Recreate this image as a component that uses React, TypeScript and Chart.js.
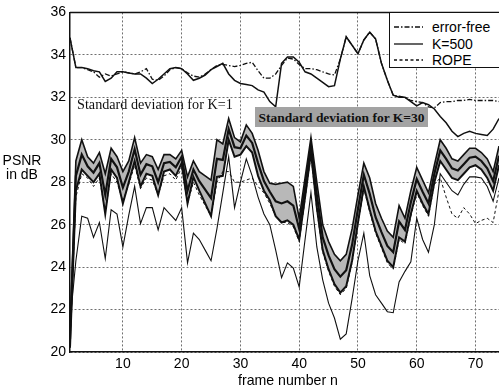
import React, { useEffect, useLayoutEffect, useRef, useState } from "react";
import { Chart, registerables } from "chart.js";

Chart.register(...registerables);

const frames = [
  1, 2, 3, 4, 5, 6, 7, 8, 9, 10, 11, 12, 13, 14, 15, 16, 17, 18, 19, 20,
  21, 22, 23, 24, 25, 26, 27, 28, 29, 30, 31, 32, 33, 34, 35, 36, 37, 38, 39, 40,
  41, 42, 43, 44, 45, 46, 47, 48, 49, 50, 51, 52, 53, 54, 55, 56, 57, 58, 59, 60,
  61, 62, 63, 64, 65, 66, 67, 68, 69, 70, 71, 72, 73, 74,
];
const xTicks = [10, 20, 30, 40, 50, 60, 70];
const yTicks = [20, 22, 24, 26, 28, 30, 32, 34, 36];

const errorFree = [
  34.8, 33.4, 33.4, 33.3, 33.2, 32.95, 33.1, 33.0, 33.1, 33.2, 33.15, 33.1, 33.2, 33.35, 32.85, 32.8, 33.0, 33.3, 33.4, 33.35,
  33.15, 33.0, 32.95, 33.1, 33.3, 33.5, 33.55, 33.5, 33.45, 33.5, 33.6, 33.65, 33.25, 32.9, 32.9, 33.1, 33.5, 33.85, 33.8, 33.55,
  33.35, 33.35, 33.3, 33.2, 33.1, 33.05, 33.8, 34.85, 34.45, 34.05, 34.7, 35.07, 34.75, 33.6, 32.8, 32.1, 32.05, 32.0, 31.85, 31.8,
  31.75, 31.55, 31.5, 31.75, 31.8, 31.8, 31.85, 31.85, 31.9, 31.85, 31.85, 31.85, 31.85, 31.8,
];
const k500 = [
  34.8, 33.4, 33.4, 33.35, 33.25, 33.2, 32.75, 32.9, 33.2, 33.2, 33.15, 33.1, 33.1, 32.9, 32.65, 32.85, 33.1, 33.35, 33.4, 33.35,
  33.1, 32.8, 32.9, 33.05, 33.3, 33.45, 33.6, 33.1, 32.8, 32.65, 32.6, 32.55, 32.35, 32.25, 31.8, 31.55, 33.6, 33.9, 33.9, 33.65,
  33.2, 33.1, 32.9, 32.7, 32.5, 32.55, 33.8, 34.85, 34.45, 34.05, 34.7, 35.07, 34.75, 33.6, 32.8, 32.1, 32.0, 32.0, 31.8, 31.6,
  31.75, 31.65, 31.45, 31.1, 30.8, 30.4, 30.15, 30.3, 30.4, 30.3, 30.25, 30.2, 30.5, 31.0,
];
const rope = [
  20.4, 27.3, 28.4, 28.2, 27.8, 28.2, 26.6, 28.4, 28.0, 27.1, 27.9, 28.8, 27.7, 28.2, 28.1, 27.4, 28.3, 28.4, 28.1, 28.7,
  27.0, 28.0, 27.4, 26.9, 26.4, 28.0, 28.5, 28.5, 28.0, 28.0, 28.1, 28.2, 27.8, 27.5, 27.0, 26.4, 26.1, 26.1, 25.9, 25.2,
  27.2, 29.3, 26.7, 24.7, 23.8, 23.1, 22.7, 23.0, 24.2, 26.0, 27.7, 26.6, 25.6, 24.9, 24.2, 23.9, 25.3, 25.1, 26.4, 27.5,
  26.9, 26.4, 27.9, 28.2, 27.3, 26.5, 26.3, 26.8, 26.5, 26.05, 26.2, 26.3, 26.1, 27.6,
];
const k30Upper = [
  21.0, 29.0, 30.0, 29.2, 28.9, 29.4, 28.4, 29.6, 29.2, 28.5, 29.0, 30.1, 28.9, 29.3, 29.2, 28.6, 29.3, 29.3, 29.1, 29.5,
  28.25, 29.0, 28.5, 28.3, 28.1, 30.0, 29.8, 31.0, 30.1, 29.9, 30.7, 30.3, 29.5, 28.5, 27.95, 27.9, 27.95, 28.0, 27.8, 26.3,
  28.2, 30.1, 28.0, 26.0, 25.2, 24.6, 24.3, 24.6, 25.8, 27.4, 28.9, 28.2, 27.0, 26.3, 25.7, 25.4, 26.9, 26.3, 27.6, 28.7,
  28.1, 27.5, 28.8, 30.0, 29.6, 29.1, 29.0, 29.3, 29.6, 29.6, 29.4, 29.1, 28.5, 29.7,
];
const k30Mean = [
  20.6, 28.3, 29.3, 28.75, 28.45, 28.9, 27.4, 29.1, 28.7, 27.75, 28.5, 29.55, 28.35, 28.85, 28.75, 28.0, 28.9, 28.95, 28.7, 29.2,
  27.6, 28.6, 28.05, 27.65, 27.25, 29.1, 29.05, 30.5, 29.65, 29.6, 30.2, 29.85, 28.9, 28.05, 27.55, 27.1, 27.0, 27.1, 26.9, 25.8,
  27.75, 29.75, 27.4, 25.4, 24.55, 23.9, 23.55, 23.85, 25.05, 26.75, 28.35, 27.45, 26.35, 25.65, 25.0, 24.7, 26.15, 25.75, 27.05, 28.15,
  27.55, 27.0, 28.4, 29.5, 29.1, 28.65, 28.55, 28.85, 29.15, 29.2, 29.0, 28.65, 28.05, 29.25,
];
const k30Lower = [
  20.2, 27.6, 28.6, 28.3, 28.0, 28.4, 26.5, 28.6, 28.2, 27.0, 28.0, 29.0, 27.8, 28.4, 28.3, 27.4, 28.5, 28.6, 28.3, 28.9,
  27.0, 28.25, 27.6, 27.0, 26.4, 28.25, 28.3, 30.0, 29.2, 29.3, 29.7, 29.4, 28.3, 27.6, 27.15, 26.4, 26.1, 26.2, 26.0, 25.3,
  27.3, 29.4, 26.8, 24.8, 23.9, 23.2, 22.8, 23.1, 24.3, 26.1, 27.8, 26.7, 25.7, 25.0, 24.3, 24.0, 25.4, 25.2, 26.5, 27.6,
  27.0, 26.5, 28.0, 29.0, 28.6, 28.2, 28.1, 28.4, 28.7, 28.8, 28.6, 28.2, 27.6, 28.8,
];
const k1Lower = [
  21.4, 24.3, 26.4, 26.3, 25.4, 26.1, 24.4, 26.7, 26.5, 24.95, 26.45, 27.8, 26.05, 26.8, 26.8, 25.75, 26.8, 26.5, 26.2, 26.8,
  24.2, 25.6, 25.3, 24.8, 24.3, 25.8, 27.5, 29.2, 26.8, 28.0, 29.1, 28.3, 27.3, 26.5, 26.0, 24.8, 23.5, 24.2, 23.95, 23.07,
  25.3, 27.5, 24.95, 23.4, 22.3, 21.6, 20.6, 20.85, 22.5, 24.3, 25.6, 23.6, 22.7, 22.3, 21.9, 21.85, 23.3, 23.8, 24.25, 26.3,
  25.3, 24.7, 26.0, 28.4, 28.0, 27.6, 27.4, 27.9, 28.25, 28.25, 28.2, 27.8, 27.1, 28.2,
];

const legendItems = [
  { label: "error-free", dash: "5 2 1.5 2" },
  { label: "K=500", dash: "" },
  { label: "ROPE", dash: "3 2.5" },
];

const pts = (vals: number[]) => vals.map((y, i) => ({ x: frames[i], y }));

const framePlugin = {
  id: "frameTop",
  afterDatasetsDraw(chart: any) {
    const { ctx, chartArea } = chart;
    ctx.save();
    ctx.strokeStyle = "#111";
    ctx.lineWidth = 1.5;
    ctx.beginPath();
    ctx.moveTo(chartArea.left, chartArea.top);
    ctx.lineTo(chartArea.right, chartArea.top);
    ctx.stroke();
    ctx.restore();
  },
};

function FitText(props: { text: string; width: number; base: number; style: any }) {
  const ref = useRef<HTMLSpanElement | null>(null);
  const [size, setSize] = useState(props.base);
  useLayoutEffect(() => {
    if (!ref.current) return;
    const w = ref.current.getBoundingClientRect().width;
    if (w > 0) setSize((props.base * props.width) / w);
  }, []);
  return (
    <span ref={ref} style={{ ...props.style, fontSize: ref.current ? size : props.base, whiteSpace: "nowrap", display: "inline-block" }}>
      {props.text}
    </span>
  );
}

export default function App() {
  const ref = useRef<HTMLCanvasElement | null>(null);

  useEffect(() => {
    if (!ref.current) return;
    const line = "#111";
    const chart = new Chart(ref.current, {
      type: "line",
      data: {
        datasets: [
          { label: "error-free", data: pts(errorFree), borderColor: line, borderWidth: 1.3, borderDash: [5, 2, 1.5, 2] },
          { label: "K=500", data: pts(k500), borderColor: line, borderWidth: 1.5 },
          { label: "ROPE", data: pts(rope), borderColor: line, borderWidth: 1, borderDash: [3, 2.5] },
          { label: "K=30 upper", data: pts(k30Upper), borderColor: line, borderWidth: 1.6 },
          { label: "K=30 mean", data: pts(k30Mean), borderColor: line, borderWidth: 2.2 },
          { label: "K=30 lower", data: pts(k30Lower), borderColor: line, borderWidth: 2, fill: 3, backgroundColor: "#b8b8b8" },
          { label: "K=1", data: pts(k1Lower), borderColor: line, borderWidth: 1.1 },
        ],
      },
      options: {
        responsive: false,
        animation: false,
        devicePixelRatio: 1,
        layout: { padding: { top: 12, left: 0, right: 0, bottom: 0 } },
        plugins: {
          legend: { display: false },
          tooltip: { enabled: false },
          filler: { drawTime: "beforeDatasetsDraw" },
        },
        elements: {
          point: { radius: 0 },
          line: { tension: 0, fill: false },
        },
        scales: {
          x: {
            type: "linear",
            min: 1,
            max: 74,
            afterFit: (s: any) => { s.height = 36; },
            afterBuildTicks: (s: any) => { s.ticks = xTicks.map((v) => ({ value: v })); },
            grid: { color: "#6f6f6f", lineWidth: 1, drawTicks: false },
            border: { display: true, color: "#111", width: 1.5, dash: [2, 2] },
            ticks: { color: "#000", font: { family: "Liberation Sans", size: 14 }, padding: 4, maxRotation: 0, autoSkip: false },
          },
          y: {
            type: "linear",
            min: 20,
            max: 36,
            afterFit: (s: any) => { s.width = 70; },
            afterBuildTicks: (s: any) => { s.ticks = yTicks.map((v) => ({ value: v })); },
            grid: { color: "#6f6f6f", lineWidth: 1, drawTicks: false },
            border: { display: true, color: "#111", width: 1.5, dash: [2, 2] },
            ticks: { color: "#000", font: { family: "Liberation Sans", size: 14 }, padding: 4, autoSkip: false },
          },
        },
      },
      plugins: [framePlugin],
    } as any);
    return () => chart.destroy();
  }, []);

  const sans = "'Liberation Sans', Arial, sans-serif";
  const serif = "'Liberation Serif', 'Times New Roman', serif";

  return (
    <div style={{ position: "absolute", left: 0, top: 0, width: 499, height: 388, background: "#fff", overflow: "hidden" }}>
      <canvas ref={ref} width={499} height={388} style={{ position: "absolute", left: 0, top: 0 }} />
      <div style={{ position: "absolute", left: 0, width: 44, top: 153, textAlign: "center", fontFamily: sans, fontSize: 14, lineHeight: "14px", color: "#000" }}>
        PSNR<br />in dB
      </div>
      <div style={{ position: "absolute", left: 238, top: 372, lineHeight: "16px" }}>
        <FitText text="frame number n" width={100} base={14} style={{ fontFamily: sans, color: "#000" }} />
      </div>
      <div style={{ position: "absolute", left: 77, top: 96, lineHeight: "16px" }}>
        <FitText text="Standard deviation for K=1" width={156} base={14} style={{ fontFamily: serif, color: "#111" }} />
      </div>
      <div style={{ position: "absolute", left: 255, top: 107, width: 173, height: 20, background: "#a3a3a3", lineHeight: "20px", textAlign: "center" }}>
        <FitText text="Standard deviation for K=30" width={166} base={14} style={{ fontFamily: serif, fontWeight: "bold", color: "#111" }} />
      </div>
      <div style={{ position: "absolute", left: 389, top: 12, width: 115, height: 56, background: "#fff", border: "1px solid #111", boxSizing: "border-box" }}>
        {legendItems.map((it, i) => (
          <div key={it.label} style={{ position: "absolute", left: 0, top: 6 + i * 16.5, height: 16, width: 115 }}>
            <svg width={34} height={16} style={{ position: "absolute", left: 3, top: 0 }}>
              <line x1={1} y1={8} x2={30} y2={8} stroke="#111" strokeWidth={1.3} strokeDasharray={it.dash || undefined} />
            </svg>
            <span style={{ position: "absolute", left: 42, top: 0, fontFamily: sans, fontSize: 14, lineHeight: "16px", color: "#000", whiteSpace: "nowrap" }}>
              {it.label}
            </span>
          </div>
        ))}
      </div>
    </div>
  );
}
